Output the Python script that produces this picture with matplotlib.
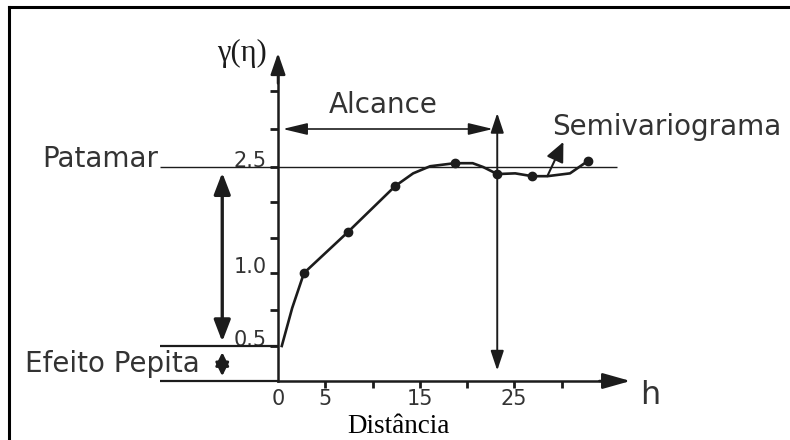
import numpy as np
import matplotlib
matplotlib.use("Agg")
import matplotlib.pyplot as plt
from matplotlib.lines import Line2D
from matplotlib.ticker import NullLocator

# semivariogram samples: lag distance h and semivariance gamma(h)
lag = [2.75, 7.4, 12.4, 18.7, 23.2, 26.9, 32.8]
gamma = [1.0, 1.58, 2.23, 2.55, 2.40, 2.37, 2.58]

# hand-drawn fitted curve through the samples
curve_lag = [0.4, 1.5, 2.75, 7.4, 12.4, 14.3, 16.1, 18.7, 20.6, 21.7,
             23.2, 25.1, 26.9, 28.5, 30.9, 32.8]
curve_gamma = [0.5, 0.76, 1.0, 1.58, 2.23, 2.41, 2.51, 2.55, 2.55, 2.5,
               2.40, 2.41, 2.37, 2.37, 2.41, 2.58]

nugget = 0.5     # efeito pepita
sill = 2.5       # patamar
range_h = 23.2   # alcance

x_ticks = [0, 5, 10, 15, 20, 25, 30]
x_labels = ["0", "5", "", "15", "", "25", ""]
y_ticks = [0.5, 0.75, 1.0, 1.5, 2.0, 2.5, 3.0, 3.5]
y_labels = ["0.5", "", "1.0", "", "", "2.5", "", ""]

INK = "#1c1c1c"
TXT = "#333333"
SERIF = ["Liberation Serif", "DejaVu Serif"]

# the gamma axis of this sketch is not to scale: stretch it piecewise
G_ANCH = [-2.0, 0.0, 0.5, 1.0, 2.5, 3.5, 6.0]
P_ANCH = [-140.0, 0.0, 35.0, 108.0, 214.0, 290.0, 480.0]


def fwd(g):
    return np.interp(g, G_ANCH, P_ANCH)


def inv(p):
    return np.interp(p, P_ANCH, G_ANCH)


def arrow(ax, start, end, style="<|-|>", lw=1.2, hl=1.1, hw=0.36):
    ax.annotate("", xy=end, xytext=start,
                arrowprops=dict(arrowstyle=f"{style},head_length={hl},head_width={hw}",
                                mutation_scale=10, color=INK, lw=lw,
                                shrinkA=0, shrinkB=0))


fig = plt.figure(figsize=(7.9, 4.4), dpi=100)
ax = fig.add_axes([0, 0, 1, 1])
ax.set_yscale("function", functions=(fwd, inv))
ax.set_xlim(-278 / 9.45, 512 / 9.45)
ax.set_ylim(inv(-59), inv(381))
ax.patch.set_visible(False)

# axes through the origin
for s in ["top", "right"]:
    ax.spines[s].set_visible(False)
ax.spines["left"].set_position(("data", 0))
ax.spines["bottom"].set_position(("data", 0))
ax.spines["left"].set_bounds(0, 3.9)
ax.spines["bottom"].set_bounds(0, 36)
for s in ["left", "bottom"]:
    ax.spines[s].set_linewidth(1.8)
    ax.spines[s].set_color(INK)
arrow(ax, (0, 3.6), (0, 4.0), style="-|>", lw=1.8, hl=1.3, hw=0.45)
arrow(ax, (34, 0), (37.3, 0), style="-|>", lw=1.8, hl=1.7, hw=0.48)

ax.set_xticks(x_ticks, labels=x_labels)
ax.set_yticks(y_ticks, labels=y_labels)
ax.xaxis.set_minor_locator(NullLocator())
ax.yaxis.set_minor_locator(NullLocator())
ax.tick_params(axis="x", direction="out", length=5, width=2, pad=1,
               labelsize=15, colors=INK, labelcolor=TXT)
ax.tick_params(axis="y", direction="out", length=6, width=2, pad=2,
               labelsize=15, colors=INK, labelcolor=TXT)
ax.xaxis.get_major_ticks()[0].tick1line.set_visible(False)
for lbl in ax.get_yticklabels():
    lbl.set_verticalalignment("baseline")

# sill and nugget reference lines
ax.hlines(sill, -12.5, 35.9, color=INK, lw=1.0)
ax.hlines([nugget, 0], -12.5, 0, color=INK, lw=1.6)

# semivariogram curve and samples
ax.plot(curve_lag, curve_gamma, color=INK, lw=1.9, solid_joinstyle="round")
ax.plot(lag, gamma, "o", color=INK, ms=6)

# range: vertical marker and horizontal span
arrow(ax, (range_h, 0.15), (range_h, 3.21), lw=1.4, hl=1.2, hw=0.4)
arrow(ax, (0.5, 3.0), (range_h - 0.45, 3.0), lw=1.2, hl=1.5, hw=0.36)

# sill minus nugget, and the nugget itself
arrow(ax, (-5.9, nugget + 0.03), (-5.9, 2.42), lw=2.4, hl=1.3, hw=0.5)
arrow(ax, (-5.9, 0.07), (-5.9, 0.41), lw=2.0, hl=0.8, hw=0.4)

# pointer to the curve
arrow(ax, (28.5, 2.37), (30.2, 2.83), style="-|>", lw=1.5, hl=1.2, hw=0.55)

ax.text(-1.2, 4.0, "γ(η)", ha="right", va="center", fontsize=22,
        family=SERIF, color=INK)
ax.text(11.1, 3.21, "Alcance", ha="center", va="baseline", fontsize=20, color=TXT)
ax.text(29.0, 2.92, "Semivariograma", ha="left", va="baseline", fontsize=20, color=TXT)
ax.text(-12.7, 2.5, "Patamar", ha="right", va="baseline", fontsize=20, color=TXT)
ax.text(-26.8, 0.13, "Efeito Pepita", ha="left", va="baseline", fontsize=20, color=TXT)
ax.text(39.4, -0.2, "h", ha="center", va="center", fontsize=23, color=TXT)
ax.text(12.75, -0.74, "Distância", ha="center", va="baseline", fontsize=19.5,
        family=SERIF, color="black")

# frame edges
fig.add_artist(Line2D([9 / 790, 1], [1 - 7 / 440] * 2, transform=fig.transFigure,
                      lw=2.2, color="black"))
fig.add_artist(Line2D([9 / 790] * 2, [0, 1 - 7 / 440], transform=fig.transFigure,
                      lw=2.2, color="black"))

fig.savefig("out.png", dpi=100)
